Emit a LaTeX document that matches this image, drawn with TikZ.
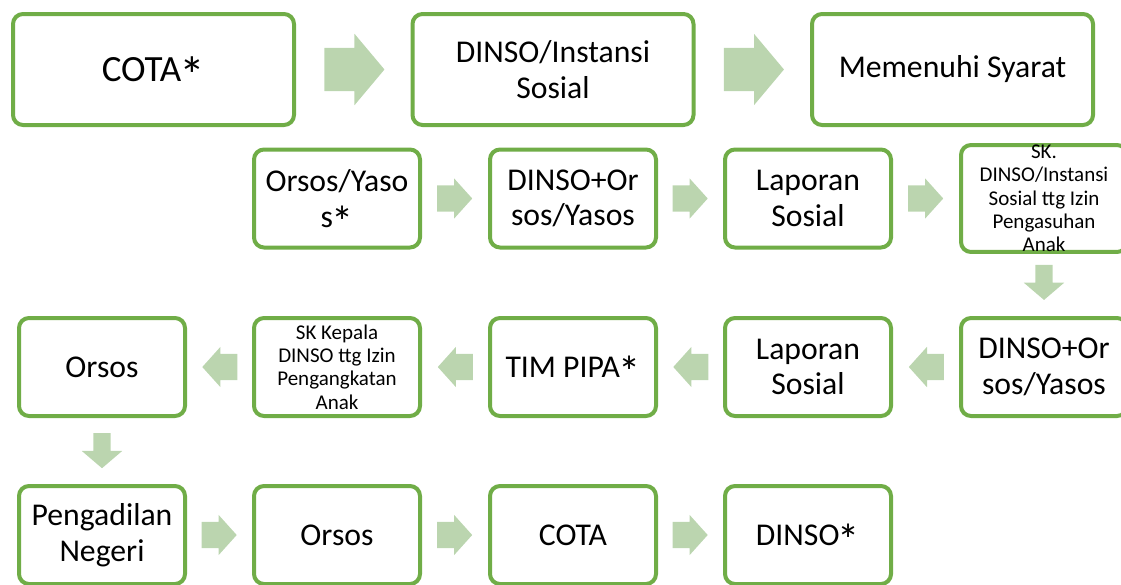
\documentclass[tikz,border=0pt]{standalone}
\usepackage{graphicx}
\usepackage{fontspec}
\setmainfont{Carlito}
\usetikzlibrary{shapes.arrows,calc}
\definecolor{boxgreen}{HTML}{70AD47}
\definecolor{arrowgreen}{HTML}{BBD5AF}
\newcommand{\starmark}{\kern-0.05em\smash{\raisebox{-0.33em}{\scalebox{1.4}{*}}}}

\begin{document}
\begin{tikzpicture}[x=1pt,y=-1pt,
    box/.style={draw=boxgreen, line width=4pt, rounded corners=10pt, fill=white,
        align=center, inner sep=0pt, minimum width=166pt, minimum height=98pt,
        font=\fontsize{31.7}{35.5}\selectfont},
    bigbox/.style={box, minimum width=281pt, minimum height=111pt},
    smalltext/.style={font=\fontsize{21}{23.3}\selectfont},
    fat/.style={single arrow, fill=arrowgreen, draw=none, anchor=tail, inner xsep=0pt,
        inner ysep=13pt, minimum width=40pt, minimum height=35pt,
        single arrow head extend=7pt, single arrow tip angle=96},
    bigfat/.style={fat, inner ysep=21.5pt, minimum width=71pt, minimum height=60pt,
        single arrow head extend=14pt, single arrow tip angle=100},
    downfat/.style={fat, inner ysep=8.5pt, single arrow head extend=11.5pt,
        single arrow tip angle=99, rotate=-90},
    leftfat/.style={fat, rotate=180}]
    \clip (0,0) rectangle (1121,584);

    % row 1
    \node[bigbox, font=\fontsize{37}{40}\selectfont] (cota) at (153.5,69.5) {COTA\starmark};
    \node[bigbox] (instansi) at (553,69.5) {DINSO/Instansi\\Sosial};
    \node[bigbox] (syarat) at (952.5,69.5) {Memenuhi Syarat};
    \node[bigfat] at ($(cota)!.5!(instansi)+(-29,0)$) {};
    \node[bigfat] at ($(instansi)!.5!(syarat)+(-29,0)$) {};

    % row 2
    \node[box] (yaso) at (337,198.5) {Orsos/Yaso\\s\starmark};
    \node[box] (orsosa) at (573,198.5) {DINSO+Or\\sos/Yasos};
    \node[box] (lapa) at (808,198.5) {Laporan\\Sosial};
    \node[box, smalltext] (asuh) at (1044,198.5) {SK.\\DINSO/Instansi\\Sosial ttg Izin\\Pengasuhan\\Anak};
    \node[fat] at ($(yaso)!.5!(orsosa)+(-18,0)$) {};
    \node[fat] at ($(orsosa)!.5!(lapa)+(-18,0)$) {};
    \node[fat] at ($(lapa)!.5!(asuh)+(-18,0)$) {};

    % row 3
    \node[box] (orsosb) at (1044,367) {DINSO+Or\\sos/Yasos};
    \node[box] (lapb) at (808,367) {Laporan\\Sosial};
    \node[box] (pipa) at (573,367) {TIM PIPA\starmark};
    \node[box, smalltext] (angkat) at (337,367) {SK Kepala\\DINSO ttg Izin\\Pengangkatan\\Anak};
    \node[box] (orsos) at (102,367) {Orsos};
    \node[downfat] at ($(asuh)!.5!(orsosb)+(0,-18)$) {};
    \node[leftfat] at ($(orsosb)!.5!(lapb)+(18,0)$) {};
    \node[leftfat] at ($(lapb)!.5!(pipa)+(18,0)$) {};
    \node[leftfat] at ($(pipa)!.5!(angkat)+(18,0)$) {};
    \node[leftfat] at ($(angkat)!.5!(orsos)+(18,0)$) {};

    % row 4
    \node[box] (pn) at (102,535) {Pengadilan\\Negeri};
    \node[box] (orsosc) at (337,535) {Orsos};
    \node[box] (cotab) at (573,535) {COTA};
    \node[box] (dinso) at (808,535) {DINSO\starmark};
    \node[downfat] at ($(orsos)!.5!(pn)+(0,-18)$) {};
    \node[fat] at ($(pn)!.5!(orsosc)+(-18,0)$) {};
    \node[fat] at ($(orsosc)!.5!(cotab)+(-18,0)$) {};
    \node[fat] at ($(cotab)!.5!(dinso)+(-18,0)$) {};
\end{tikzpicture}
\end{document}
